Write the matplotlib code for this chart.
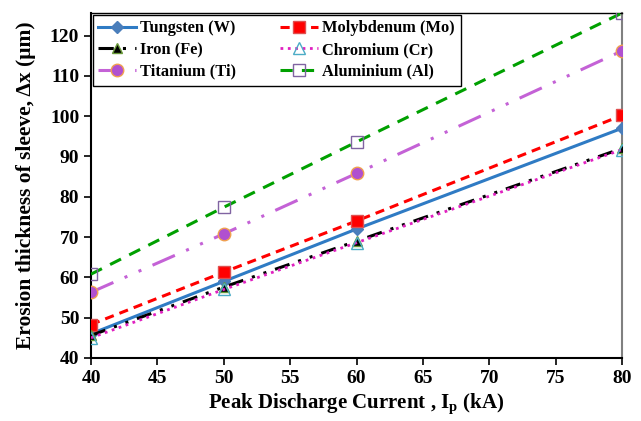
import matplotlib
matplotlib.use("Agg")
import matplotlib.pyplot as plt

plt.rcParams['font.family'] = ['Liberation Serif', 'DejaVu Serif']
plt.rcParams['font.weight'] = 'bold'
plt.rcParams['mathtext.fontset'] = 'custom'
plt.rcParams['mathtext.rm'] = 'Liberation Serif:bold'

corriente = [40, 50, 60, 80]
tungsteno = [46.0, 59.0, 72.0, 97.0]
molibdeno = [48.3, 61.3, 74.0, 100.2]
hierro = [45.6, 57.6, 69.0, 92.0]
cromo = [45.0, 57.0, 68.6, 91.7]
titanio = [56.3, 70.8, 85.8, 116.2]
aluminio = [60.8, 77.4, 93.6, 125.6]

x_ticks = [40, 45, 50, 55, 60, 65, 70, 75, 80]
y_ticks = [40, 50, 60, 70, 80, 90, 100, 110, 120]

fig = plt.figure(figsize=(6.41, 4.21), dpi=100)
ax = fig.add_axes([91/641, 63/421, 531/641, 345/421])

ax.plot(corriente, tungsteno, '-', color='#2f7bc4', lw=2.2, marker='D', ms=6,
        mfc='#4a7ebb', mec='#4a7ebb', label='Tungsten (W)', zorder=3)
ax.plot(corriente, molibdeno, '--', color='#ff0000', lw=2.2, dashes=(3, 2), marker='s', ms=8,
        mfc='#ff0000', mec='#e05050', label='Molybdenum (Mo)', zorder=3)
ax.plot(corriente, hierro, color='black', lw=2.2, dashes=(5, 3, 1, 3, 1, 3), marker='^', ms=7,
        mfc='black', mec='#6a9a3a', label='Iron (Fe)', zorder=3)
ax.plot(corriente, cromo, ':', color='#e020c0', lw=2.0, marker='^', ms=8,
        mfc='none', mec='#4bacc6', label='Chromium (Cr)', zorder=3)
ax.plot(corriente, titanio, color='#c462d6', lw=2.2, dashes=(8, 4, 1, 4, 1, 4), marker='o', ms=9,
        mfc='#b050d0', mec='#f0a050', label='Titanium (Ti)', zorder=3)
ax.plot(corriente, aluminio, '--', color='#00a000', lw=2.2, dashes=(4, 3), marker='s', ms=9,
        mfc='none', mec='#8064a2', label='Aluminium (Al)', zorder=3)

ax.set_xlim(40, 80)
ax.set_ylim(40, 125.6)
ax.set_xticks(x_ticks)
ax.set_yticks(y_ticks)
ax.tick_params(axis='both', labelsize=14, direction='out', length=5, width=1.2)
for lbl in ax.get_xticklabels() + ax.get_yticklabels():
    lbl.set_fontweight('bold')

ax.spines['left'].set_linewidth(1.5)
ax.spines['bottom'].set_linewidth(1.5)
ax.spines['top'].set_linewidth(1.0)
ax.spines['right'].set_color('#808080')
ax.spines['right'].set_linewidth(1.5)

ax.set_xlabel('Peak Discharge Current , I$_\\mathregular{p}$ (kA)', fontsize=15, fontweight='bold')
ax.set_ylabel('Erosion thickness of sleeve, \u0394x (\u03bcm)', fontsize=15.5, fontweight='bold',
              labelpad=10)

handles, labels = ax.get_legend_handles_labels()
orden = [0, 2, 4, 1, 3, 5]
leg = ax.legend([handles[i] for i in orden], [labels[i] for i in orden], ncol=2,
                loc='upper left', bbox_to_anchor=(0.0, 1.0), fontsize=11.8,
                frameon=True, fancybox=False, edgecolor='black', framealpha=1,
                handlelength=2.3, handletextpad=0.25, columnspacing=2.7,
                borderaxespad=0.1, borderpad=0.35, labelspacing=0.35)
leg.get_frame().set_linewidth(1.0)
for t in leg.get_texts():
    t.set_fontweight('bold')

fig.savefig('out.png', dpi=100)
